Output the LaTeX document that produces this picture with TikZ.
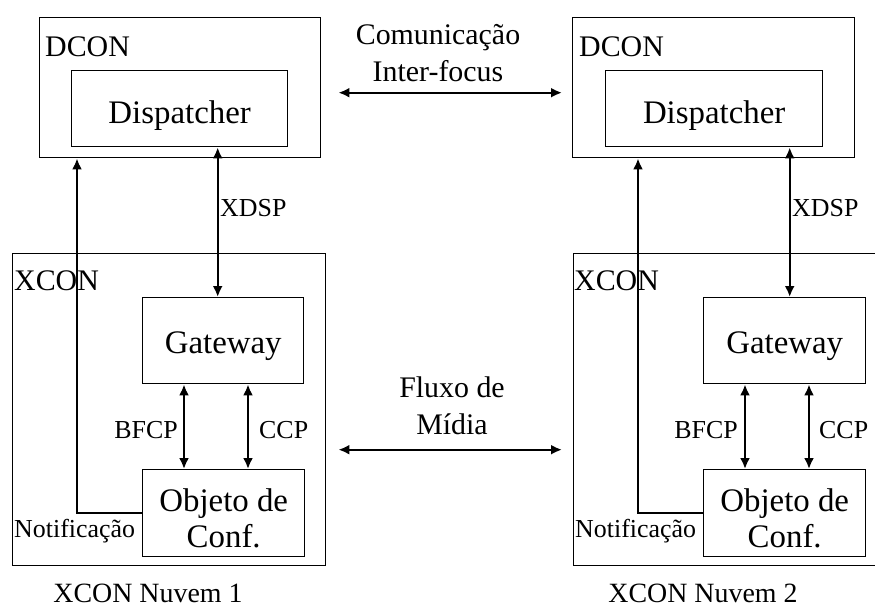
\documentclass[tikz,border=0pt]{standalone}
\usepackage{fontspec}
\setmainfont{Liberation Serif}
\usetikzlibrary{arrows.meta,positioning}

\newcommand{\bigtxt}{\fontsize{33}{37}\selectfont}
\newcommand{\midtxt}{\fontsize{30}{37}\selectfont}
\newcommand{\smalltxt}{\fontsize{26}{30}\selectfont}
\newcommand{\nuvtxt}{\fontsize{28}{30}\selectfont}

\begin{document}
\begin{tikzpicture}[x=1bp, y=-1bp, >={Latex[length=11bp,width=10bp]},
    box/.style={draw, line width=1.4bp, rectangle, anchor=north west, inner sep=0pt},
    lbl/.style={inner sep=0pt, font=\smalltxt},
    link/.style={line width=2.2bp}]

    \clip (0,0) rectangle (875,610);

    % Define nodes (cloud 1)
    \node (dcon1) [box, minimum width=281bp, minimum height=140bp] at (39,17) {};
    \node (disp1) [box, minimum width=216bp, minimum height=76bp, font=\bigtxt, text height=37bp, text depth=7bp] at (71,70) {Dispatcher};
    \node (xcon1) [box, minimum width=313bp, minimum height=312bp] at (12,253) {};
    \node (gw1) [box, minimum width=161bp, minimum height=86bp, font=\bigtxt, text height=33bp, text depth=7bp] at (142,297) {Gateway};
    \node (obj1) [box, minimum width=162bp, minimum height=87bp, font=\bigtxt, align=center, text height=70bp] at (142,469) {Objeto de\\Conf.};

    % Define nodes (cloud 2)
    \node (dcon2) [box, minimum width=282bp, minimum height=140bp] at (572,17) {};
    \node (disp2) [box, minimum width=217bp, minimum height=76bp, font=\bigtxt, text height=37bp, text depth=7bp] at (605,70) {Dispatcher};
    \node (xcon2) [box, minimum width=313bp, minimum height=312bp] at (573,253) {};
    \node (gw2) [box, minimum width=162bp, minimum height=86bp, font=\bigtxt, text height=33bp, text depth=7bp] at (703,297) {Gateway};
    \node (obj2) [box, minimum width=162bp, minimum height=87bp, font=\bigtxt, align=center, text height=70bp] at (703,469) {Objeto de\\Conf.};

    % Box titles
    \node (dcont1) [lbl, font=\midtxt, anchor=base west] at (45,57) {DCON};
    \node (dcont2) [lbl, font=\midtxt, anchor=base west] at (579,57) {DCON};
    \node (xcont1) [lbl, font=\midtxt, anchor=base west] at (14,290) {XCON};
    \node (xcont2) [lbl, font=\midtxt, anchor=base west] at (574,290) {XCON};

    % Labels
    \node (xdspl1) [lbl, anchor=base west] at (220,217) {XDSP};
    \node (xdspl2) [lbl, anchor=base west] at (792,217) {XDSP};
    \node (bfcpl1) [lbl, anchor=base east] at (178,438) {BFCP};
    \node (bfcpl2) [lbl, anchor=base east] at (738,438) {BFCP};
    \node (ccpl1) [lbl, anchor=base west] at (259,438) {CCP};
    \node (ccpl2) [lbl, anchor=base west] at (819,438) {CCP};
    \node (notl1) [lbl, anchor=base west] at (14,537) {Notificação};
    \node (notl2) [lbl, anchor=base west] at (575,537) {Notificação};
    \node (nuv1) [lbl, font=\nuvtxt, anchor=base] at (148,602) {XCON Nuvem 1};
    \node (nuv2) [lbl, font=\nuvtxt, anchor=base] at (703,602) {XCON Nuvem 2};
    \node (comm) [lbl, font=\midtxt, align=center, anchor=north] at (438,24) {Comunicação\\Inter-focus};
    \node (midia) [lbl, font=\midtxt, align=center, anchor=north] at (452,377) {Fluxo de\\Mídia};

    % Helper points
    \coordinate (xd1) at ([xshift=-5.5bp]gw1.north);
    \coordinate (xd2) at ([xshift=5bp]gw2.north);
    \coordinate (nt1) at ([xshift=65bp]xcon1.north west);
    \coordinate (nt2) at ([xshift=65bp]xcon2.north west);

    % Connections inside the clouds
    \draw[link, <->] (xd1) -- (xd1 |- disp1.south);
    \draw[link, <->] (xd2) -- (xd2 |- disp2.south);
    \draw[link, <->] ([xshift=42bp]gw1.south west) -- ([xshift=42bp]obj1.north west);
    \draw[link, <->] ([xshift=106bp]gw1.south west) -- ([xshift=106bp]obj1.north west);
    \draw[link, <->] ([xshift=42bp]gw2.south west) -- ([xshift=42bp]obj2.north west);
    \draw[link, <->] ([xshift=106bp]gw2.south west) -- ([xshift=106bp]obj2.north west);
    \draw[link, ->] (obj1.west) -| (nt1 |- dcon1.south);
    \draw[link, ->] (obj2.west) -| (nt2 |- dcon2.south);

    % Between the clouds
    \draw[link, <->] ([xshift=17bp, yshift=-5bp]dcon1.east) -- ([xshift=-10bp, yshift=-5bp]dcon2.west);
    \draw[link, <->] ([xshift=12bp, yshift=-40bp]xcon1.east) -- ([xshift=-11bp, yshift=-40bp]xcon2.west);

\end{tikzpicture}
\end{document}
